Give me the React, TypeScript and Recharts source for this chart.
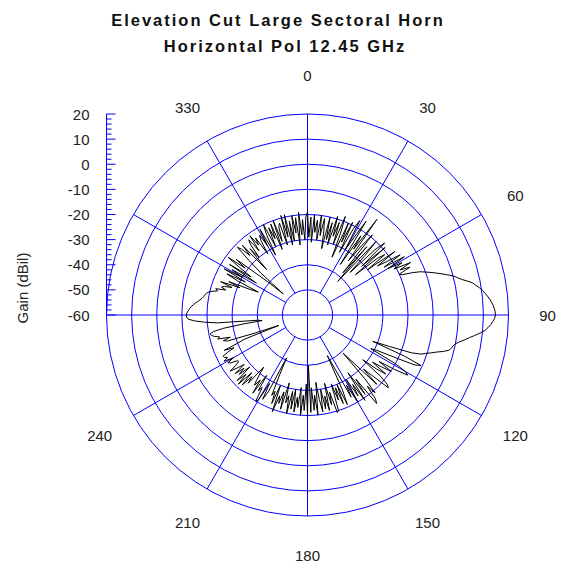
import React from 'react';
import {
  RadarChart,
  Radar,
  PolarGrid,
  PolarAngleAxis,
  PolarRadiusAxis,
  LineChart,
  Line,
  YAxis,
} from 'recharts';

// elevation cut, gain in dBil at every degree (0 = up, clockwise)
const GAIN_DBIL: number[] = [
  -19, -29, -21, -31, -20, -27, -22, -30, -20, -28,
  -21, -26, -33, -20, -29, -22, -31, -19, -27, -21,
  -30, -18, -25, -35, -20, -28, -19, -32, -21, -17,
  -30, -24, -16, -36, -22, -28, -13, -33, -25, -19,
  -38, -24, -42, -20, -27, -36, -22, -18, -31, -19,
  -35, -24, -21, -30, -17, -26, -22, -16, -24, -15,
  -23, -17, -21, -14, -19, -15, -20, -19, -15, -12,
  -10, -8, -6, -4, -2, 0, 1.5, 3, 5, 7,
  8, 9.3, 10.3, 11.2, 12, 12.8, 13.4, 14, 14.4, 14.7,
  14.8, 14.5, 13.8, 13, 12, 10.9, 9, 7, 5, 3.3,
  1.5, 0, -0.8, -1.2, -2, -4, -6.5, -8.5, -10.5, -12.2,
  -16, -25, -32, -18, -10.6, -13, -22, -29, -31.5, -20,
  -15, -13.5, -19, -26, -19.8, -24, -28, -21, -25, -31.7,
  -22, -18, -16.7, -24, -29, -21, -33, -39.3, -26, -19,
  -23, -17, -15.3, -28, -21, -32, -19, -27, -22, -30,
  -20, -28, -23, -36, -42, -27, -21, -30, -22, -29,
  -24, -31, -20, -19.4, -28, -23, -32, -21, -27, -22,
  -30, -21, -26, -33, -20, -28, -22, -31, -21.2, -40,
  -20, -32.5, -22, -28, -20, -31, -23, -27, -21, -30,
  -22, -29, -20, -27, -24, -32, -21, -28, -23, -26,
  -19.1, -30, -22, -27, -25, -34, -41, -26, -22, -29,
  -21, -20, -26, -24, -31, -22, -28, -25, -27, -30,
  -32.9, -24, -27, -22, -28, -21.1, -26, -21.7, -29, -24,
  -27, -23, -28, -25, -22, -25.2, -27, -26.6, -24, -23,
  -26, -22, -24, -22.8, -22.6, -25, -28, -24, -30, -33,
  -47.8, -38, -26.5, -25, -28, -23, -24, -22, -21, -20.5,
  -22, -26, -34, -41.8, -40, -24, -19, -15, -12.5, -11.8,
  -11.8, -12, -12.5, -13, -13.5, -14.3, -15, -16, -16.8, -17.5,
  -18, -18.3, -18.8, -19.5, -21, -23, -22, -26, -24, -25.1,
  -28, -23, -31, -26, -35, -38.4, -29, -24, -32, -22,
  -30, -25, -36, -23, -33, -27, -21, -29, -24, -34,
  -40, -47.2, -35, -28.3, -21.2, -23, -27, -22, -35.7, -25,
  -30, -24, -22, -28, -21, -26, -23, -31, -25, -22.9,
  -28, -21, -33, -24, -20, -30, -22, -27, -21, -32,
  -20, -29, -23, -21.8, -31, -19, -28, -19, -31.5, -22,
  -30, -20, -27, -21, -32, -19, -28, -22, -30, -21,
];

const ANGLE_LABELS = [0, 30, 60, 90, 120, 150, 180, 210, 240, 330];
const GAIN_DOMAIN: [number, number] = [-60, 20];
const GAIN_TICKS = [-60, -50, -40, -30, -20, -10, 0, 10, 20];
const MINOR_STEP = 2;

const W = 561;
const H = 571;
const CX = 307.5;
const CY = 315;
const R = 201;
const LABEL_R = 240;
const BLUE = '#0000ff';
const FONT = '"Liberation Sans", Arial, sans-serif';

const data = GAIN_DBIL.map((gain, angle) => ({ angle, gain }));

const minorTicks: number[] = [];
for (let v = GAIN_DOMAIN[0]; v <= GAIN_DOMAIN[1]; v += MINOR_STEP) minorTicks.push(v);

// compass degrees -> recharts degrees (counter-clockwise from 3 o'clock)
const toChartAngle = (deg: number) => 90 - deg;
const mainSpokes = [0, 90, 180, 270].map(toChartAngle);
const minorSpokes = [30, 60, 120, 150, 210, 240, 300, 330].map(toChartAngle);

function AngleTick(props: any) {
  const { x, y, payload } = props;
  if (!ANGLE_LABELS.includes(payload.value)) return null;
  const dx = x - CX;
  const dy = y - CY;
  const len = Math.hypot(dx, dy) || 1;
  return (
    <text
      x={CX + (dx / len) * LABEL_R}
      y={CY + (dy / len) * LABEL_R}
      textAnchor="middle"
      dominantBaseline="central"
      fontSize={15}
      fontFamily={FONT}
      fill="#222"
    >
      {payload.value}
    </text>
  );
}

function GainTick(props: any) {
  const { y, payload } = props;
  const x = CX - R;
  const major = payload.value % 10 === 0;
  return (
    <g>
      <line x1={x} x2={x + (major ? 9 : 5)} y1={y} y2={y} stroke={BLUE} />
      {major && (
        <text
          x={x - 17}
          y={y}
          textAnchor="end"
          dominantBaseline="central"
          fontSize={15}
          fontFamily={FONT}
          fill="#222"
        >
          {payload.value}
        </text>
      )}
    </g>
  );
}

const layer: React.CSSProperties = { position: 'absolute', left: 0, top: 0 };
const titleStyle = {
  fontSize: 16.5,
  fontWeight: 'bold' as const,
  fontFamily: FONT,
  letterSpacing: 2,
  fill: '#111',
};

export default function App() {
  return (
    <div style={{ position: 'absolute', left: 0, top: 0, width: W, height: H, background: '#fff' }}>
      <svg width={W} height={H} style={layer}>
        <text x={278} y={26} textAnchor="middle" style={titleStyle}>
          Elevation Cut Large Sectoral Horn
        </text>
        <text x={285} y={52} textAnchor="middle" style={titleStyle}>
          Horizontal Pol 12.45 GHz
        </text>
        <text
          x={22}
          y={288}
          transform="rotate(-90 22 288)"
          textAnchor="middle"
          dominantBaseline="central"
          fontSize={15}
          fontFamily={FONT}
          fill="#222"
        >
          Gain (dBil)
        </text>
      </svg>

      {/* 30 degree spokes start at the innermost ring */}
      <div style={layer}>
        <RadarChart
          width={W}
          height={H}
          data={data}
          cx={CX}
          cy={CY}
          innerRadius={R / 8}
          outerRadius={R}
          startAngle={90}
          endAngle={-270}
          margin={{ top: 0, right: 0, bottom: 0, left: 0 }}
        >
          <PolarGrid gridType="circle" polarRadius={[]} polarAngles={minorSpokes} stroke={BLUE} strokeOpacity={1} />
        </RadarChart>
      </div>

      <div style={layer}>
        <RadarChart
          width={W}
          height={H}
          data={data}
          cx={CX}
          cy={CY}
          innerRadius={0}
          outerRadius={R}
          startAngle={90}
          endAngle={-270}
          margin={{ top: 0, right: 0, bottom: 0, left: 0 }}
        >
          <PolarGrid gridType="circle" polarAngles={mainSpokes} stroke={BLUE} strokeOpacity={1} />
          <PolarAngleAxis dataKey="angle" tick={<AngleTick />} tickLine={false} axisLine={false} tickSize={30} />
          <PolarRadiusAxis
            type="number"
            domain={GAIN_DOMAIN}
            ticks={GAIN_TICKS as any}
            tickCount={GAIN_TICKS.length}
            tick={false}
            axisLine={false}
          />
          <Radar
            dataKey="gain"
            stroke="#000"
            strokeWidth={1}
            fill="none"
            fillOpacity={0}
            dot={false}
            isAnimationActive={false}
          />
        </RadarChart>
      </div>

      {/* gain scale on the left, tangent to the outer ring */}
      <div style={layer}>
        <LineChart
          width={W}
          height={H}
          data={data}
          margin={{ top: CY - R, bottom: H - CY, left: CX - R - 60, right: 0 }}
        >
          <YAxis
            type="number"
            domain={GAIN_DOMAIN}
            allowDataOverflow
            ticks={minorTicks}
            interval={0}
            width={60}
            stroke={BLUE}
            tickLine={false}
            tick={<GainTick />}
          />
          <Line dataKey="gain" stroke="none" dot={false} activeDot={false} isAnimationActive={false} />
        </LineChart>
      </div>
    </div>
  );
}
